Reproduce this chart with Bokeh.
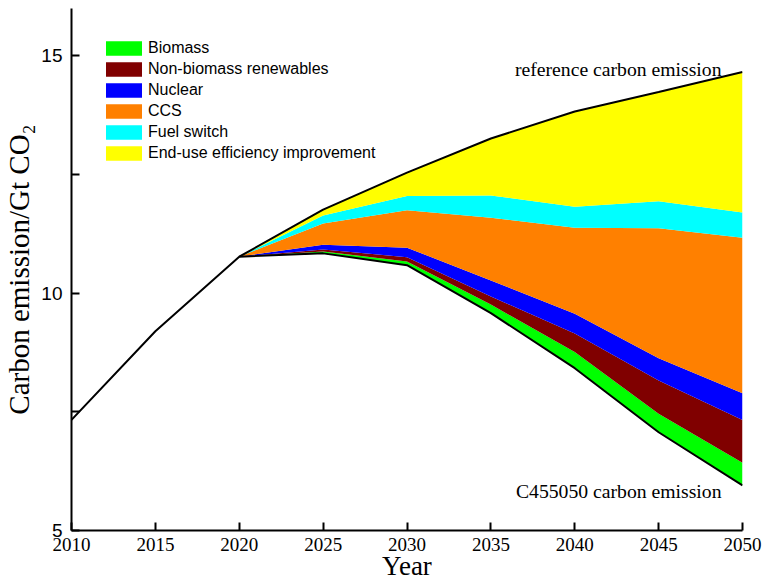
import numpy as np
from bokeh.plotting import figure
from bokeh.models import Range1d, FixedTicker, Legend, LegendItem
from bokeh.core.properties import value
from bokeh.embed import file_html
from bokeh.resources import INLINE

# ---- data ----
hist_years = [2010, 2015, 2020]
hist_emission = [7.33, 9.20, 10.77]

years = [2020, 2025, 2030, 2035, 2040, 2045, 2050]
reference = [10.77, 11.76, 12.54, 13.26, 13.83, 14.24, 14.66]
c455050 = [10.77, 10.84, 10.59, 9.58, 8.42, 7.07, 5.95]

biomass = [0.0, 0.04, 0.08, 0.18, 0.34, 0.39, 0.48]
non_biomass_renewables = [0.0, 0.04, 0.09, 0.17, 0.39, 0.70, 0.90]
nuclear = [0.0, 0.10, 0.20, 0.34, 0.42, 0.47, 0.56]
ccs = [0.0, 0.45, 0.79, 1.32, 1.81, 2.74, 3.28]
fuel_switch = [0.0, 0.17, 0.30, 0.47, 0.44, 0.57, 0.53]
end_use_efficiency = [0.0, 0.12, 0.49, 1.20, 2.01, 2.30, 2.96]

series_names = ["Biomass", "Non-biomass renewables", "Nuclear", "CCS",
                "Fuel switch", "End-use efficiency improvement"]
series_values = [biomass, non_biomass_renewables, nuclear, ccs,
                 fuel_switch, end_use_efficiency]
series_colors = ["#00FF00", "#800000", "#0000FF", "#FF8000", "#00FFFF", "#FFFF00"]

x_ticks = [2010, 2015, 2020, 2025, 2030, 2035, 2040, 2045, 2050]
y_ticks = [5, 10, 15]
y_minor_ticks = [7.5, 12.5]

# ---- figure ----
p = figure(width=769, height=586, output_backend="svg", toolbar_location=None,
           x_range=Range1d(2010, 2050), y_range=Range1d(5, 16),
           min_border_left=71, min_border_right=27, min_border_top=8,
           min_border_bottom=56)
p.outline_line_color = None
p.grid.visible = False
p.background_fill_color = "white"

# stacked areas
base = np.array(c455050, dtype=float)
renderers = []
for name, vals, col in zip(series_names, series_values, series_colors):
    top = base + np.array(vals, dtype=float)
    r = p.varea(x=years, y1=base, y2=top, fill_color=col, fill_alpha=1.0)
    renderers.append((name, r))
    base = top

# lines
p.line(hist_years + years[1:], hist_emission + reference[1:], line_color="black", line_width=2)
p.line(years, c455050, line_color="black", line_width=2)

# annotations
p.text(x=[2048.75], y=[14.72], text=["reference carbon emission"],
       text_font=value("Liberation Serif"), text_font_size="19.7px",
       text_align="right", text_baseline="alphabetic", text_color="black")
p.text(x=[2048.75], y=[5.83], text=["C455050 carbon emission"],
       text_font=value("Liberation Serif"), text_font_size="19.7px",
       text_align="right", text_baseline="alphabetic", text_color="black")

# axes
xa = p.xaxis[0]
xa.ticker = FixedTicker(ticks=x_ticks)
xa.axis_label = "Year"
xa.axis_label_text_font = "Liberation Serif"
xa.axis_label_text_font_size = "27px"
xa.axis_label_text_font_style = "normal"
xa.axis_label_text_color = "black"
xa.axis_label_standoff = -3
xa.major_label_text_font = "Liberation Serif"
xa.major_label_text_font_size = "19px"
xa.major_label_text_color = "black"
xa.major_label_standoff = 7
xa.major_tick_in = 8
xa.major_tick_out = 0
xa.minor_tick_in = 0
xa.minor_tick_out = 0
xa.axis_line_width = 2
xa.major_tick_line_width = 2

ya = p.yaxis[0]
ya.ticker = FixedTicker(ticks=y_ticks, minor_ticks=y_minor_ticks)
ya.axis_label = "Carbon emission/Gt CO\u2082"
ya.axis_label_text_font = "Liberation Serif"
ya.axis_label_text_font_size = "29px"
ya.axis_label_text_font_style = "normal"
ya.axis_label_text_color = "black"
ya.axis_label_standoff = 3
ya.major_label_text_font = "Liberation Sans"
ya.major_label_text_font_size = "19px"
ya.major_label_text_color = "black"
ya.major_label_standoff = 9
ya.major_tick_in = 8
ya.major_tick_out = 0
ya.minor_tick_in = 8
ya.minor_tick_out = 0
ya.axis_line_width = 2
ya.major_tick_line_width = 2
ya.minor_tick_line_width = 2

# legend
legend = Legend(items=[LegendItem(label=n, renderers=[r]) for n, r in renderers],
                location=(30, 368), padding=0, margin=0, spacing=3,
                glyph_width=45, glyph_height=18, label_height=18,
                label_standoff=2, label_text_font="Liberation Sans",
                label_text_font_size="16px", label_text_color="black",
                border_line_color=None, background_fill_alpha=0)
p.add_layout(legend, "center")

open("out.html", "w").write(file_html(p, INLINE))
